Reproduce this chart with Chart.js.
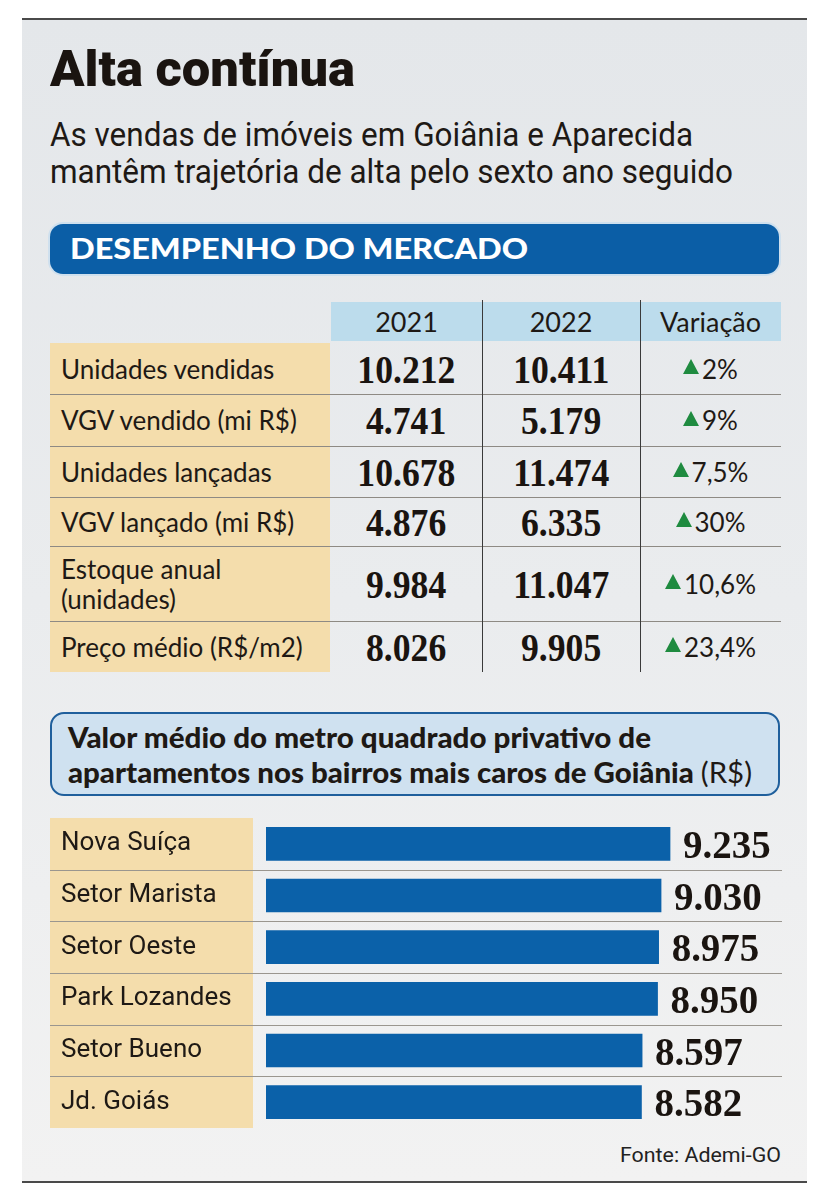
<!DOCTYPE html>
<html><head><meta charset="utf-8">
<script src="https://cdn.jsdelivr.net/npm/chart.js@4.4.1/dist/chart.umd.min.js"></script>
<style>
html,body{margin:0;padding:0;background:#fff;}
body{width:829px;height:1200px;position:relative;overflow:hidden;font-family:Lato,sans-serif;color:#1e1915;}
#panel{position:absolute;left:22px;top:18px;width:785px;height:1165px;background:linear-gradient(#e4e7ea,#eaecee 50%,#f2f2f2);border-top:2px solid #4a4a4a;border-bottom:2px solid #4a4a4a;box-sizing:border-box;}
.abs{position:absolute;white-space:nowrap;}
.fit{display:inline-block;transform-origin:0 0;}
.narrow{font-family:Roboto,sans-serif;}
.cell{position:absolute;display:flex;align-items:center;justify-content:center;white-space:nowrap;}
.val{font-family:'Liberation Serif',serif;font-weight:700;font-size:41px;color:#1a1410;}
.val span{display:inline-block;transform:scaleX(0.87);}
.tri{display:inline-block;width:0;height:0;border-left:8px solid transparent;border-right:8px solid transparent;border-bottom:15px solid #1f8b40;margin-right:3px;position:relative;top:-2px;}
</style></head>
<body>
<div id="panel"></div>
<div class="abs" style="left:50px;top:44px;font-family:Roboto,sans-serif;font-weight:900;font-size:50px;line-height:50px;color:#1a1410;"><span class="fit" data-w="305">Alta contínua</span></div>
<div class="abs narrow" style="left:50px;top:117px;font-size:34px;line-height:34px;"><span class="fit" data-w="643">As vendas de imóveis em Goiânia e Aparecida</span></div>
<div class="abs narrow" style="left:50px;top:154px;font-size:34px;line-height:34px;"><span class="fit" data-w="683">mantêm trajetória de alta pelo sexto ano seguido</span></div>

<div class="abs" style="left:50px;top:224px;width:729px;height:50px;background:#0b5ea6;border-radius:13px;box-shadow:0 0 0 2px #cfe0ee;"></div>
<div class="abs" style="left:70px;top:233px;font-family:Lato,sans-serif;font-weight:900;font-size:29px;line-height:29px;color:#fff;"><span class="fit" data-w="458">DESEMPENHO DO MERCADO</span></div>

<div id="table"></div>

<div class="abs" style="left:50px;top:712px;width:730px;height:84px;background:#cfe1f0;border:2px solid #1f5f9c;border-radius:14px;box-sizing:border-box;"></div>
<div class="abs" style="left:68px;top:723px;font-family:Lato,sans-serif;font-weight:900;font-size:28px;line-height:28px;"><span class="fit" data-w="583">Valor médio do metro quadrado privativo de</span></div>
<div class="abs" style="left:68px;top:758px;font-family:Lato,sans-serif;font-weight:900;font-size:28px;line-height:28px;"><span class="fit" data-w="684">apartamentos nos bairros mais caros de Goiânia <span style="font-weight:400">(R$)</span></span></div>

<canvas id="bars" width="741" height="310" style="position:absolute;left:50px;top:818px;"></canvas>

<div class="abs narrow" style="left:620px;top:1145px;font-size:20px;line-height:20px;color:#222;"><span class="fit" data-w="161">Fonte: Ademi-GO</span></div>

<script>
// ---- data ----
const tableYears = ['2021', '2022'];
const variationHeader = 'Variação';
const rowLabels = ['Unidades vendidas', 'VGV vendido (mi R$)', 'Unidades lançadas', 'VGV lançado (mi R$)', 'Estoque anual<br>(unidades)', 'Preço médio (R$/m2)'];
const values2021 = [10212, 4741, 10678, 4876, 9984, 8026];
const values2022 = [10411, 5179, 11474, 6335, 11047, 9905];
const variation = ['2%', '9%', '7,5%', '30%', '10,6%', '23,4%'];

const neighborhoods = ['Nova Suíça', 'Setor Marista', 'Setor Oeste', 'Park Lozandes', 'Setor Bueno', 'Jd. Goiás'];
const pricePerM2 = [9235, 9030, 8975, 8950, 8597, 8582];

function fmt(n){ return String(n).replace(/\B(?=(\d{3})+(?!\d))/g, '.'); }

// ---- table layout ----
const T = document.getElementById('table');
const colX = [331, 482, 640, 781];
const rowY = [343, 394, 446, 497, 546, 621, 672];
let html = '';
html += `<div class="abs" style="left:331px;top:302px;width:450px;height:39px;background:#bcdcec;"></div>`;
html += `<div class="abs" style="left:50px;top:343px;width:280px;height:329px;background:#f4ddac;"></div>`;
const heads = [...tableYears, variationHeader];
heads.forEach((h,i)=>{
  html += `<div class="cell" style="left:${colX[i]}px;top:302px;width:${colX[i+1]-colX[i]}px;height:39px;font-size:27px;">${h}</div>`;
});
for(let r=0;r<rowLabels.length;r++){
  const top=rowY[r], h=rowY[r+1]-rowY[r];
  html += `<div class="cell" style="left:61px;top:${top}px;height:${h}px;justify-content:flex-start;font-size:26px;line-height:30px;white-space:normal;width:270px;"><span>${rowLabels[r]}</span></div>`;
  html += `<div class="cell val" style="left:${colX[0]}px;top:${top}px;width:${colX[1]-colX[0]}px;height:${h}px;"><span>${fmt(values2021[r])}</span></div>`;
  html += `<div class="cell val" style="left:${colX[1]}px;top:${top}px;width:${colX[2]-colX[1]}px;height:${h}px;"><span>${fmt(values2022[r])}</span></div>`;
  html += `<div class="cell" style="left:${colX[2]}px;top:${top}px;width:${colX[3]-colX[2]}px;height:${h}px;font-size:26px;"><span class="tri"></span>${variation[r]}</div>`;
  if(r>0) html += `<div class="abs" style="left:50px;top:${top}px;width:731px;height:1px;background:#8e8a84;"></div>`;
}
html += `<div class="abs" style="left:482px;top:300px;width:1px;height:372px;background:#3a3a3a;"></div>`;
html += `<div class="abs" style="left:640px;top:300px;width:1px;height:372px;background:#3a3a3a;"></div>`;
T.innerHTML = html;

// ---- fit headline widths ----
document.querySelectorAll('[data-w]').forEach(el=>{
  const w = el.getBoundingClientRect().width;
  el.style.transform = `scaleX(${(+el.dataset.w)/w})`;
});

// ---- bar chart ----
const rowsPlugin = {
  id:'rows',
  beforeDraw(chart){
    const {ctx, chartArea} = chart;
    const y = chart.scales.y;
    ctx.save();
    ctx.fillStyle = '#f4ddac';
    ctx.fillRect(0, chartArea.top, 203, chartArea.bottom - chartArea.top);
    ctx.strokeStyle = '#9a968f';
    ctx.lineWidth = 1;
    for(let i=0;i<neighborhoods.length-1;i++){
      const yy = Math.round((y.getPixelForValue(i)+y.getPixelForValue(i+1))/2)+0.5;
      ctx.beginPath(); ctx.moveTo(0,yy); ctx.lineTo(732,yy); ctx.stroke();
    }
    ctx.restore();
  },
  afterDatasetsDraw(chart){
    const {ctx} = chart;
    const meta = chart.getDatasetMeta(0);
    ctx.save();
    ctx.fillStyle = '#1a1410';
    ctx.font = "bold 41px 'Liberation Serif', serif";
    ctx.textBaseline = 'alphabetic';
    meta.data.forEach((bar,i)=>{
      ctx.save();
      ctx.translate(bar.x + 13, bar.y + 14);
      ctx.scale(0.95, 1);
      ctx.fillText(fmt(pricePerM2[i]), 0, 0);
      ctx.restore();
    });
    ctx.restore();
  }
};

new Chart(document.getElementById('bars'), {
  type:'bar',
  data:{labels:neighborhoods, datasets:[{data:pricePerM2, backgroundColor:'#0b61a9', borderWidth:0, barThickness:33}]},
  options:{
    indexAxis:'y', responsive:false, animation:false, events:[],
    layout:{padding:{left:11,right:0,top:0,bottom:0}},
    plugins:{legend:{display:false}, tooltip:{enabled:false}},
    scales:{
      x:{display:false, min:0, max:12000},
      y:{
        grid:{display:false}, border:{display:false},
        ticks:{crossAlign:'far', padding:0, color:'#1e1915', font:{family:"Roboto,sans-serif", size:26}},
        afterFit(s){ s.width = 205; s.paddingTop = 0; s.paddingBottom = 0; }
      }
    }
  },
  plugins:[rowsPlugin]
});
</script>
</body></html>
